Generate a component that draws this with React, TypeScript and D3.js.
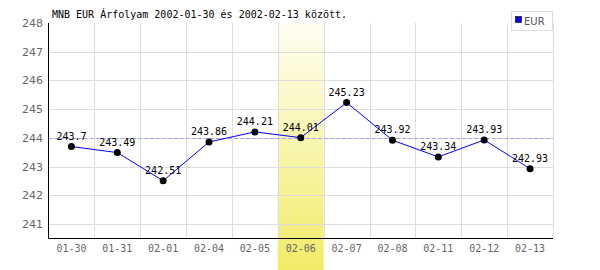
import React from "react";
import * as d3 from "d3";

const categories = ["01-30", "01-31", "02-01", "02-04", "02-05", "02-06", "02-07", "02-08", "02-11", "02-12", "02-13"];
const values = [243.7, 243.49, 242.51, 243.86, 244.21, 244.01, 245.23, 243.92, 243.34, 243.93, 242.93];
const yTicks = [241, 242, 243, 244, 245, 246, 247, 248];
const highlightCategory = "02-06";
const referenceValue = 244.01;
const seriesName = "EUR";
const title = "MNB EUR Árfolyam 2002-01-30 és 2002-02-13 között.";

export default function App() {
  const W = 600, H = 270;
  const left = 48.5, right = 553, top = 23, bottom = 238.5;
  const x = d3.scaleBand().domain(categories).range([left, right]);
  const y = d3.scaleLinear().domain([240.5, 248]).range([bottom, top]);
  const cx = (c: string) => (x(c) as number) + x.bandwidth() / 2;
  const line = d3.line<number>().x((_, i) => cx(categories[i])).y((v) => y(v));
  const mono = "'DejaVu Sans Mono', monospace";
  const hx = x(highlightCategory) as number;
  return (
    <svg width={W} height={H} style={{ position: "absolute", left: 0, top: 0, background: "#fff" }}>
      <defs>
        <linearGradient id="hl" x1="0" y1="0" x2="0" y2="1">
          <stop offset="0" stopColor="#fffef2" />
          <stop offset="1" stopColor="#f0ec68" />
        </linearGradient>
      </defs>
      <rect x={hx} y={top} width={x.bandwidth()} height={H - top} fill="url(#hl)" />
      {yTicks.filter((t) => t < 248).map((t) => (
        <line key={t} x1={left} x2={right} y1={Math.round(y(t)) + 0.5} y2={Math.round(y(t)) + 0.5} stroke="#dddddd" />
      ))}
      {categories.slice(1).concat(["end"]).map((c, i) => {
        const xx = Math.round(left + x.bandwidth() * (i + 1)) + 0.5;
        return <line key={c} x1={xx} x2={xx} y1={top} y2={bottom} stroke="#dddddd" />;
      })}
      <line x1={left} x2={right} y1={Math.round(y(referenceValue)) + 0.5} y2={Math.round(y(referenceValue)) + 0.5} stroke="#9999ee" strokeDasharray="3,3" />
      <line x1={left} x2={left} y1={top} y2={bottom} stroke="#000" />
      <line x1={left} x2={right} y1={bottom} y2={bottom} stroke="#000" />
      {yTicks.map((t) => (
        <text key={t} x={43} y={y(t) + 4} textAnchor="end" fontFamily="'DejaVu Sans', sans-serif" fontSize={11} fill="#666">{t}</text>
      ))}
      {categories.map((c) => (
        <text key={c} x={cx(c)} y={252} textAnchor="middle" fontFamily={mono} fontSize={10} fill="#666">{c}</text>
      ))}
      <path d={line(values) || ""} fill="none" stroke="#0000ff" strokeWidth={1} />
      {values.map((v, i) => (
        <g key={i}>
          <circle cx={cx(categories[i])} cy={y(v)} r={3.5} fill="#000" />
          <text x={cx(categories[i])} y={y(v) - 7} textAnchor="middle" fontFamily={mono} fontSize={10} fill="#000">{v}</text>
        </g>
      ))}
      <text x={52} y={18} fontFamily={mono} fontSize={10} fill="#000">{title}</text>
      <rect x={511.5} y={11.5} width={41} height={19} fill="#fff" stroke="#dddddd" />
      <rect x={515.5} y={16.5} width={6} height={6} fill="#0000ff" stroke="#000" strokeWidth={0.6} />
      <text x={524} y={24.5} fontFamily="'DejaVu Sans', sans-serif" fontSize={10} fill="#555">{seriesName}</text>
    </svg>
  );
}
